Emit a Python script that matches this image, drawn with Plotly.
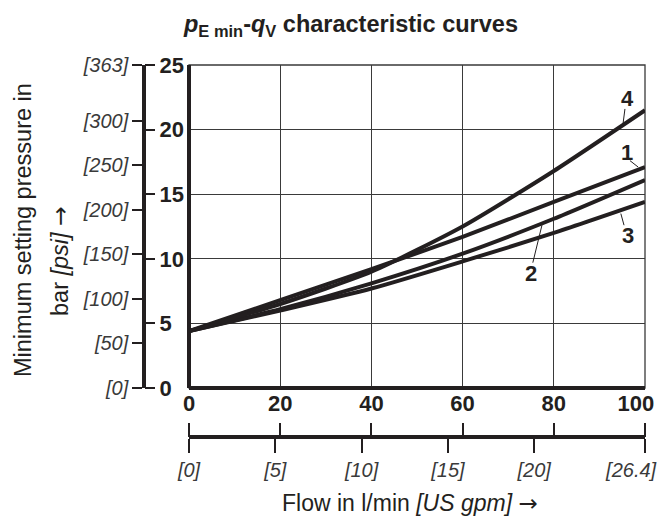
import plotly.graph_objects as go

flow = [0, 20, 40, 60, 80, 100]
curve_1 = [4.4, 6.8, 9.2, 11.7, 14.4, 17.1]
curve_2 = [4.4, 6.1, 8.1, 10.4, 13.1, 16.1]
curve_3 = [4.4, 6.0, 7.7, 9.8, 12.0, 14.4]
curve_4 = [4.4, 6.5, 9.0, 12.5, 16.8, 21.5]
curve_names = ["1", "2", "3", "4"]

bar_ticks = [0, 5, 10, 15, 20, 25]
psi_tick_labels = ["0", "50", "100", "150", "200", "250", "300", "363"]
flow_ticks = [0, 20, 40, 60, 80, 100]
gpm_tick_labels = ["0", "5", "10", "15", "20", "26.4"]

PSI_PER_BAR = 14.5038
LPM_PER_GPM = 3.78541

psi_vals = [float(v) for v in psi_tick_labels[:-1]] + [25 * PSI_PER_BAR]
gpm_vals = [float(v) for v in gpm_tick_labels[:-1]] + [100 / LPM_PER_GPM]

INK = "#231f20"
GRID = "#3a3a3a"
FONT = "Liberation Sans"
NB = "\u00a0"
ARROW = '<span style="font-family:DejaVu Sans">→</span>'

fig = go.Figure()
for name, ys in zip(curve_names, [curve_1, curve_2, curve_3, curve_4]):
    fig.add_trace(go.Scatter(x=flow, y=ys, mode="lines", name=name,
                             line=dict(color=INK, width=4, shape="spline", smoothing=0.6),
                             showlegend=False, hoverinfo="skip"))

fig.add_trace(go.Scatter(x=[None], y=[None], xaxis="x", yaxis="y2", showlegend=False))
fig.add_trace(go.Scatter(x=[None], y=[None], xaxis="x", yaxis="y3", showlegend=False))
fig.add_trace(go.Scatter(x=[None], y=[None], xaxis="x2", yaxis="y", showlegend=False))
fig.add_trace(go.Scatter(x=[None], y=[None], xaxis="x3", yaxis="y", showlegend=False))

L, R, T, B = 10, 10, 10, 10
W, H = 661, 519
pw, ph = W - L - R, H - T - B

def fx(px):
    return (px - L) / pw

def fy(py):
    return 1 - (py - T) / ph

x0, x1 = fx(189), fx(645)
y0, y1 = fy(388), fy(65)
psi_pos = fx(144)
gpm_pos = fy(437)

common = dict(automargin=False, fixedrange=True, zeroline=False, showgrid=False)

flow_text = [f"<b>{v}</b>" for v in flow_ticks]
flow_text[-1] = flow_text[-1] + NB * 3
gpm_text = [f"<i>[{v}]</i>" for v in gpm_tick_labels]
gpm_text[-1] = gpm_text[-1] + NB * 5

fig.update_layout(
    width=W, height=H, autosize=False,
    margin=dict(l=L, r=R, t=T, b=B, pad=0, autoexpand=False),
    paper_bgcolor="white", plot_bgcolor="white",
    font=dict(family=FONT, color=INK),
    xaxis=dict(domain=[x0, x1], range=[0, 100], tickvals=flow_ticks,
               ticktext=flow_text,
               tickfont=dict(size=22, family=FONT, color=INK),
               gridcolor=GRID, gridwidth=1.3, ticks="", showline=False, anchor="y",
               ticklabeloverflow="allow",
               **{**common, "showgrid": True}),
    yaxis=dict(domain=[y0, y1], range=[0, 25], tickvals=bar_ticks,
               showticklabels=False, gridcolor=GRID, gridwidth=1.3,
               ticks="", showline=False, anchor="x",
               **{**common, "showgrid": True}),
    yaxis2=dict(overlaying="y", anchor="free", position=psi_pos, side="left",
                range=[0, 25 * PSI_PER_BAR], tickvals=psi_vals,
                ticktext=[f"<i>[{v}]</i>" for v in psi_tick_labels],
                tickfont=dict(size=20, family=FONT, color="#3a3a3a"),
                ticks="outside", ticklen=10, tickwidth=1.5, tickcolor=INK,
                showline=True, linewidth=3.5, linecolor=INK,
                ticklabeloverflow="allow", **common),
    yaxis3=dict(overlaying="y", anchor="free", position=psi_pos, side="right",
                range=[0, 25], tickvals=bar_ticks,
                ticktext=[f"<b>{v}</b>" for v in bar_ticks],
                tickfont=dict(size=22, family=FONT, color=INK),
                ticks="outside", ticklen=10, tickwidth=1.5, tickcolor=INK,
                showline=False, ticklabeloverflow="allow", **common),
    xaxis2=dict(overlaying="x", anchor="free", position=gpm_pos, side="bottom",
                range=[0, 100 / LPM_PER_GPM], tickvals=gpm_vals,
                ticktext=gpm_text,
                tickfont=dict(size=20, family=FONT, color="#3a3a3a"),
                ticks="outside", ticklen=14, tickwidth=1.5, tickcolor=INK,
                showline=True, linewidth=3.5, linecolor=INK,
                ticklabeloverflow="allow", **common),
    xaxis3=dict(overlaying="x", anchor="free", position=gpm_pos, side="top",
                range=[0, 100], tickvals=flow_ticks, showticklabels=False,
                ticks="outside", ticklen=14, tickwidth=1.5, tickcolor=INK,
                showline=False, **common),
)

fig.add_shape(type="rect", xref="x domain", yref="y domain", x0=0, x1=1, y0=0, y1=1,
              line=dict(color=GRID, width=1.3), layer="below")
fig.add_shape(type="line", xref="x domain", yref="y domain", x0=0, x1=0, y0=0, y1=1,
              line=dict(color=INK, width=4))
fig.add_shape(type="line", xref="x domain", yref="y domain", x0=0, x1=1, y0=0, y1=0,
              line=dict(color=INK, width=4))

labels = [
    ("4", 96.1, 22.4, [(95.6, 21.6), (95.2, 20.5)]),
    ("1", 96.1, 18.2, [(96.7, 17.6), (98.5, 17.1)]),
    ("2", 75.0, 8.9, [(75.4, 9.7), (77.4, 12.6)]),
    ("3", 96.3, 11.8, [(95.4, 12.6), (94.7, 13.5)]),
]
for txt, lx, ly, (p, q) in labels:
    fig.add_annotation(x=lx, y=ly, xref="x", yref="y", text=f"<b>{txt}</b>",
                       showarrow=False, font=dict(size=22, family=FONT, color=INK))
    fig.add_shape(type="line", xref="x", yref="y", x0=p[0], y0=p[1], x1=q[0], y1=q[1],
                  line=dict(color=INK, width=1))

fig.add_annotation(x=fx(350), y=fy(25), xref="paper", yref="paper",
                   text="<b><i>p</i><sub>E min</sub>-<i>q</i><sub>V</sub> characteristic curves</b>",
                   showarrow=False, font=dict(size=23.5, family=FONT, color=INK),
                   xanchor="center", yanchor="middle")

fig.add_annotation(x=fx(23), y=fy(230), xref="paper", yref="paper",
                   text="Minimum setting pressure in", textangle=-90, showarrow=False,
                   font=dict(size=23.5, family=FONT, color=INK), xanchor="center", yanchor="middle")
fig.add_annotation(x=fx(60), y=fy(261), xref="paper", yref="paper",
                   text=f"bar <i>[psi]</i> {ARROW}", textangle=-90, showarrow=False,
                   font=dict(size=23.5, family=FONT, color=INK), xanchor="center", yanchor="middle")
fig.add_annotation(x=fx(410), y=fy(503), xref="paper", yref="paper",
                   text=f"Flow in l/min <i>[US gpm]</i> {ARROW}", showarrow=False,
                   font=dict(size=23, family=FONT, color=INK), xanchor="center", yanchor="middle")

fig.write_html("out.html", config={"displayModeBar": False},
               post_script="document.body.style.margin='0';")
